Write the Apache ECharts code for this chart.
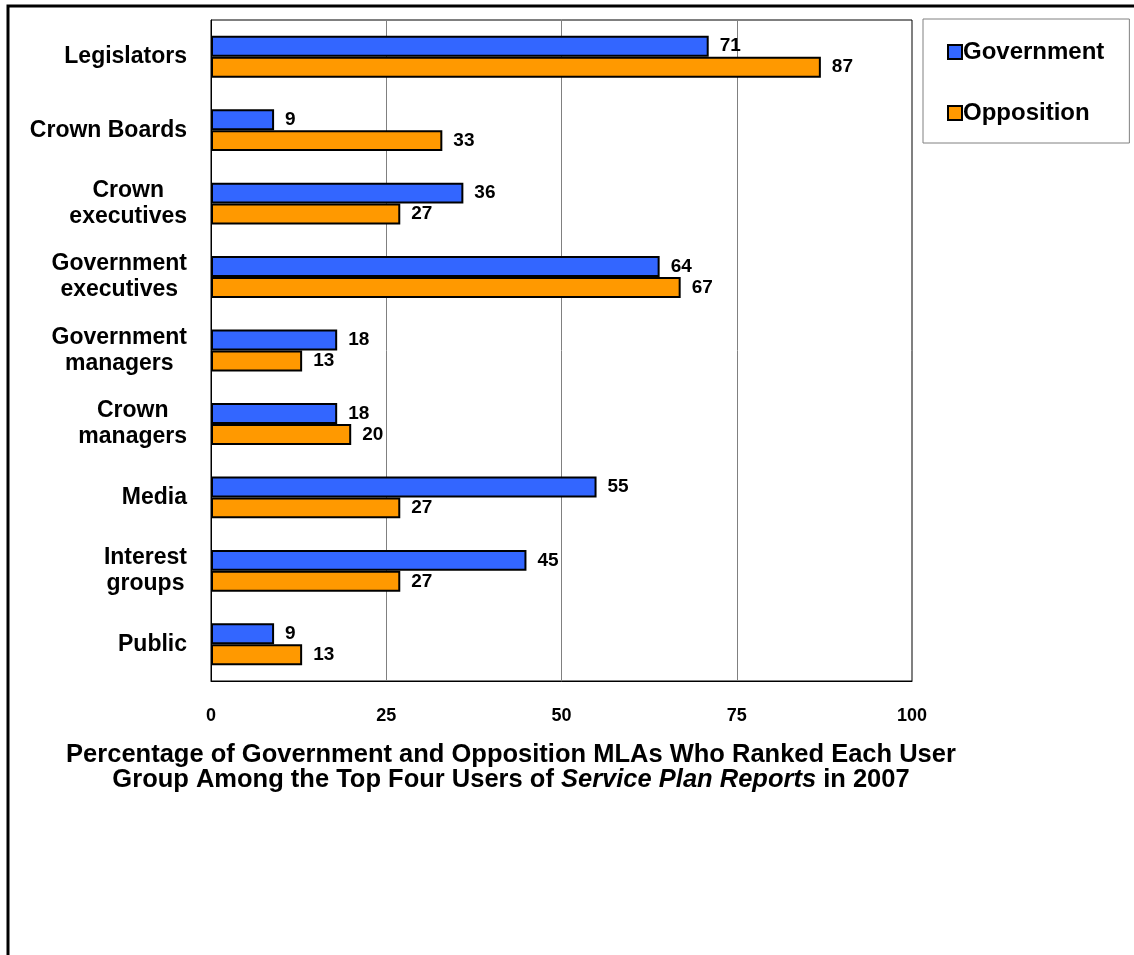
<!DOCTYPE html>
<html>
<head>
<meta charset="utf-8">
<script src="https://cdn.jsdelivr.net/npm/echarts@6/dist/echarts.min.js"></script>
<style>
html,body{margin:0;padding:0;background:#fff;}
#main{width:1134px;height:955px;}
</style>
</head>
<body>
<div id="main"></div>
<script>
const categories = ['Legislators', 'Crown Boards', 'Crown\nexecutives', 'Government\nexecutives', 'Government\nmanagers', 'Crown\nmanagers', 'Media', 'Interest\ngroups', 'Public'];
const government = [71, 9, 36, 64, 18, 18, 55, 45, 9];
const opposition = [87, 33, 27, 67, 13, 20, 27, 27, 13];
const xTicks = [0, 25, 50, 75, 100];
const seriesNames = ['Government', 'Opposition'];

const FONT = "'Liberation Sans', Arial, sans-serif";
const chart = echarts.init(document.getElementById('main'));

const labelStyle = {
  show: true, position: 'right', distance: 11,
  fontFamily: FONT, fontWeight: 'bold', fontSize: 19, color: '#000'
};

chart.setOption({
  animation: false,
  backgroundColor: '#fff',
  graphic: [{
    type: 'polyline',
    shape: { points: [[8, 955], [8, 6], [1134, 6]] },
    style: { stroke: '#000', lineWidth: 3, fill: null },
    silent: true
  }],
  title: {
    left: 506, top: 737, textAlign: 'center',
    text: '{b|Percentage of Government and Opposition MLAs Who Ranked Each User}\n{b|Group Among the Top Four Users of }{i|Service Plan Reports}{b| in 2007}',
    textStyle: {
      rich: {
        b: { fontFamily: FONT, fontWeight: 'bold', fontSize: 25.5, lineHeight: 25, color: '#000' },
        i: { fontFamily: FONT, fontWeight: 'bold', fontStyle: 'italic', fontSize: 25.5, lineHeight: 25, color: '#000' }
      }
    }
  },
  legend: {
    orient: 'vertical', left: 923, top: 19,
    padding: [18, 25, 15, 24],
    itemGap: 31, itemWidth: 14, itemHeight: 14,
    itemStyle: { borderColor: '#000', borderWidth: 2 },
    borderColor: '#808080', borderWidth: 1, backgroundColor: '#fff',
    icon: 'rect',
    textStyle: { fontFamily: FONT, fontWeight: 'bold', fontSize: 24, lineHeight: 30, color: '#000', padding: [0, 0, 0, -4] },
    data: seriesNames
  },
  grid: {
    left: 211, right: 222, top: 20, bottom: 274,
    show: true, borderColor: '#000', borderWidth: 1, containLabel: false
  },
  xAxis: {
    type: 'value', min: xTicks[0], max: xTicks[xTicks.length - 1], interval: 25,
    axisLine: { show: true, lineStyle: { color: '#000', width: 1 } },
    axisTick: { show: false },
    splitLine: { show: true, lineStyle: { color: '#808080', width: 1 } },
    axisLabel: { margin: 26, fontFamily: FONT, fontWeight: 'bold', fontSize: 18, color: '#000' }
  },
  yAxis: {
    type: 'category', data: categories, inverse: true,
    axisLine: { show: true, lineStyle: { color: '#000', width: 1 } },
    axisTick: { show: false },
    axisLabel: {
      margin: 24,
      formatter: v => v.split('\n').map(s => '{c|' + s + '}').join('\n'),
      rich: { c: { align: 'center', fontFamily: FONT, fontWeight: 'bold', fontSize: 23, lineHeight: 26, color: '#000' } }
    }
  },
  series: [
    {
      name: seriesNames[0], type: 'bar', data: government,
      barGap: '0%', barCategoryGap: '43%',
      itemStyle: { color: '#3366FF', borderColor: '#000', borderWidth: 2 },
      label: labelStyle
    },
    {
      name: seriesNames[1], type: 'bar', data: opposition,
      barGap: '0%', barCategoryGap: '43%',
      itemStyle: { color: '#FF9900', borderColor: '#000', borderWidth: 2 },
      label: labelStyle
    }
  ]
});
</script>
</body>
</html>
